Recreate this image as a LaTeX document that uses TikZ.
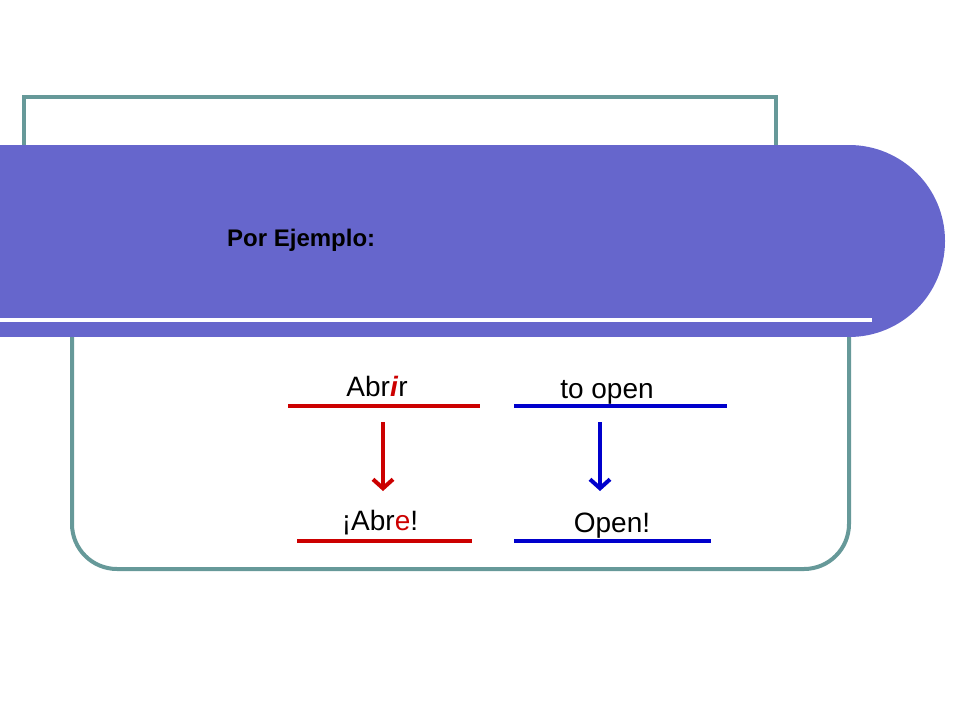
\documentclass[tikz,border=0pt]{standalone}
\usepackage{fontspec}
\setmainfont{Liberation Sans}
\usetikzlibrary{arrows.meta}
\begin{document}
\begin{tikzpicture}[x=1pt,y=-1pt]
\definecolor{teal1}{HTML}{669999}
\definecolor{purp}{HTML}{6666CC}
\definecolor{red1}{HTML}{CC0000}
\definecolor{blue1}{HTML}{0000CC}
\tikzset{lbl/.style={font=\fontsize{28}{32}\selectfont, inner sep=0pt, anchor=base},
 bar/.style={line width=4.5pt}, arr/.style={line width=4pt, -{Straight Barb[length=9pt,width=20pt,line width=4pt]}}}
\useasboundingbox (0,0) rectangle (960,720);
\draw[teal1, line width=4pt] (24,150) -- (24,97) -- (776,97) -- (776,150);
\draw[teal1, line width=4pt, rounded corners=45] (72,300) -- (72,569) -- (849,569) -- (849,300);
\fill[purp] (0,145) rectangle (849,337);
\fill[purp] (849,241) circle[radius=96];
\draw[white, line width=4pt] (0,320) -- (872,320);
\node[font=\bfseries\fontsize{24}{28}\selectfont, anchor=base west, inner sep=0] (t) at (227,246) {Por Ejemplo:};
\node[lbl] (a) at (377,396) {Abr\textcolor{red1}{\textbf{\textit{i}}}r};
\node[lbl] (b) at (607,398) {to open};
\node[lbl] (c) at (380,530) {¡Abr\textcolor{red1}{e}!};
\node[lbl] (d) at (612,532) {Open!};
\coordinate (r1) at (288,406); \coordinate (r2) at (480,406);
\coordinate (b1) at (514,406); \coordinate (b2) at (727,406);
\coordinate (r3) at (297,541); \coordinate (r4) at (472,541);
\coordinate (b3) at (514,541); \coordinate (b4) at (711,541);
\draw[bar, red1] (r1) -- (r2); \draw[bar, blue1] (b1) -- (b2);
\draw[bar, red1] (r3) -- (r4); \draw[bar, blue1] (b3) -- (b4);
\coordinate (ra) at (383,422); \coordinate (rb) at (383,491);
\coordinate (ba) at (600,422); \coordinate (bb) at (600,491);
\draw[arr, red1] (ra) -- (rb);
\draw[arr, blue1] (ba) -- (bb);
\end{tikzpicture}
\end{document}
